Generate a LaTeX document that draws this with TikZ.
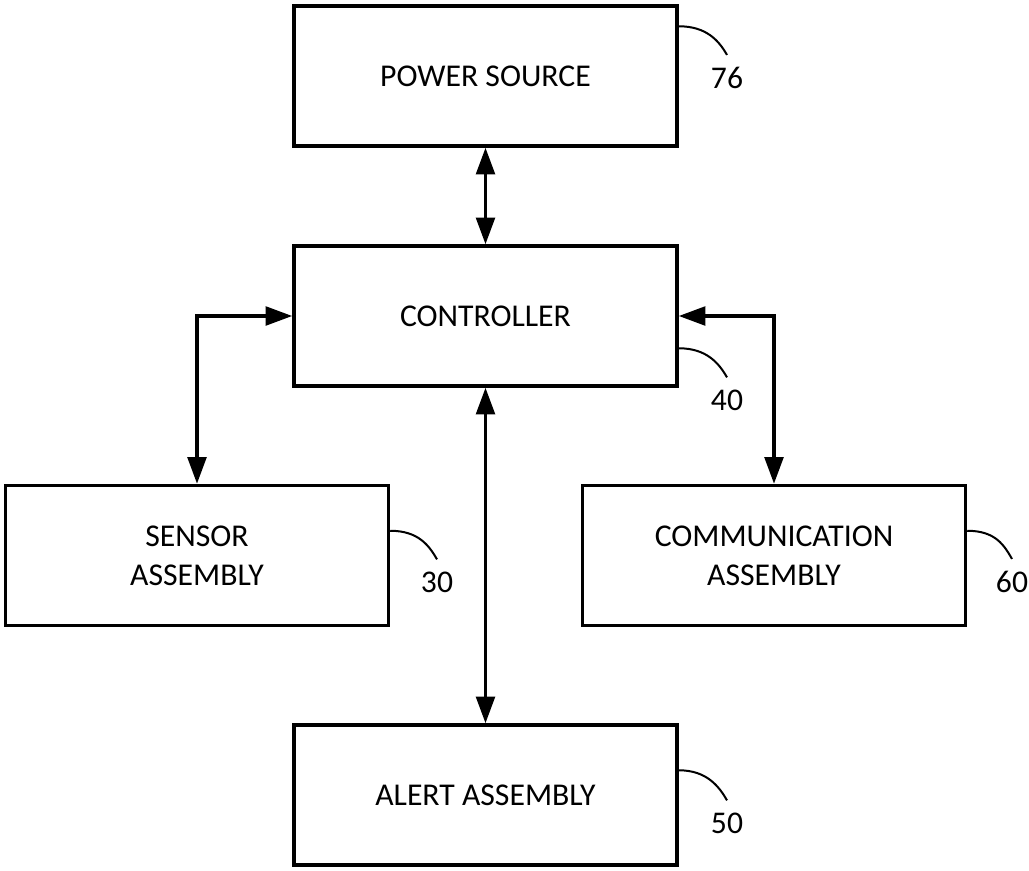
\documentclass[tikz,border=0pt]{standalone}
\usepackage{fontspec}
\setmainfont{Carlito}
\usetikzlibrary{arrows.meta,calc}
\begin{document}
\begin{tikzpicture}[x=0.75pt,y=-0.75pt,
  box/.style={draw,line width=2.6pt,minimum width=287.25pt,minimum height=105pt,align=center,inner sep=0pt,font=\fontsize{23.8}{29}\selectfont},
  conn/.style={line width=2.6pt,{Triangle[length=20pt,width=14pt]}-{Triangle[length=20pt,width=14pt]}},
  lead/.style={line width=1.5pt},
  lbl/.style={font=\fontsize{23.7}{28}\selectfont,inner sep=0pt}]
\useasboundingbox (0,0) rectangle (1029,871);
\node[box] (ps) at (485.5,76) {POWER SOURCE};
\node[box] (ctl) at (485.5,316) {CONTROLLER};
\node[box] (sen) at (197,555.5) {SENSOR\\ASSEMBLY};
\node[box] (com) at (774,555.5) {COMMUNICATION\\ASSEMBLY};
\node[box] (alt) at (485.5,795) {ALERT ASSEMBLY};
\draw[conn] (ps) -- (ctl);
\draw[conn] (ctl) -- (alt);
\draw[conn] (ctl.west) -| (sen.north);
\draw[conn] (ctl.east) -| (com.north);
% reference labels
\node[lbl] (l76) at (727,78) {76};
\node[lbl] (l40) at (727,400) {40};
\node[lbl] (l30) at (437,582) {30};
\node[lbl] (l60) at (1012,582) {60};
\node[lbl] (l50) at (727,823) {50};
\draw[lead] ($(ps.north east)+(0,22)$) .. controls +(28,0) and +(-8,-14) .. ($(l76.north)+(0,-12)$);
\draw[lead] ($(ctl.north east)+(0,104)$) .. controls +(28,0) and +(-8,-14) .. ($(l40.north)+(0,-12)$);
\draw[lead] ($(sen.north east)+(0,47)$) .. controls +(28,0) and +(-8,-14) .. ($(l30.north)+(0,-12)$);
\draw[lead] ($(com.north east)+(0,47)$) .. controls +(28,0) and +(-8,-14) .. ($(l60.north)+(0,-12)$);
\draw[lead] ($(alt.north east)+(0,47)$) .. controls +(28,0) and +(-8,-14) .. ($(l50.north)+(0,-12)$);
\end{tikzpicture}
\end{document}
